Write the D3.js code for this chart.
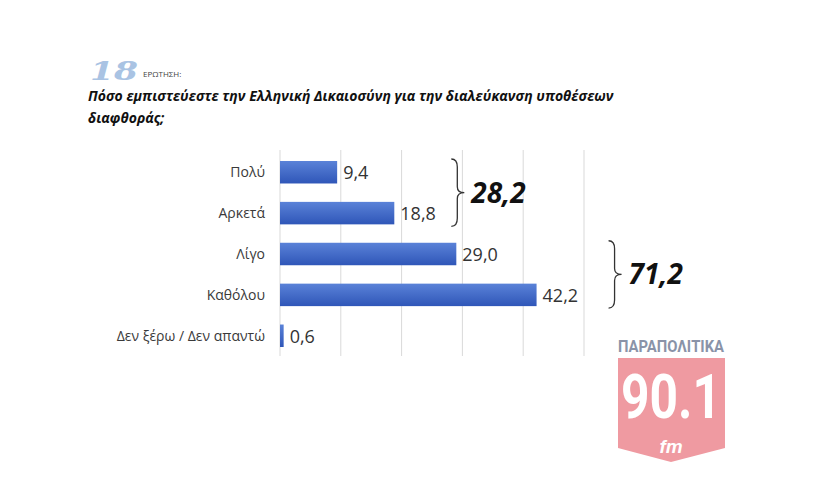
<!DOCTYPE html><html><head><meta charset="utf-8"><script src="https://cdn.jsdelivr.net/npm/d3@7"></script>
<style>body{margin:0;background:#fff}</style></head><body><svg width="830" height="488"></svg><script>
const categories=["Πολύ","Αρκετά","Λίγο","Καθόλου","Δεν ξέρω / Δεν απαντώ"];
const values=[9.4,18.8,29.0,42.2,0.6];
const labels=["9,4","18,8","29,0","42,2","0,6"];
const ticks=[0,10,20,30,40,50];
const groups=[{from:0,to:1,label:"28,2"},{from:2,to:3,label:"71,2"}];
const svg=d3.select("svg");const F="'Open Sans', sans-serif";
svg.append("text").attr("x",90).attr("y",80).attr("font-family","DejaVu Serif").attr("font-weight","bold").attr("font-style","italic").attr("font-size",26).attr("fill","#a9c3e3").attr("textLength",48).attr("lengthAdjust","spacingAndGlyphs").text("18");
svg.append("text").attr("x",143).attr("y",77).attr("font-family",F).attr("font-size",8).attr("fill","#444").text("ΕΡΩΤΗΣΗ:");
["Πόσο εμπιστεύεστε την Ελληνική Δικαιοσύνη για την διαλεύκανση υποθέσεων","διαφθοράς;"].forEach((t,i)=>svg.append("text").attr("x",88).attr("y",101+i*22).attr("font-family",F).attr("font-weight","bold").attr("font-style","italic").attr("font-size",14).attr("fill","#111").text(t));
const x=d3.scaleLinear().domain([0,50]).range([280,584]);
const y=d3.scaleBand().domain(categories).range([152,356]).paddingInner(0.45).paddingOuter(0.22);
svg.append("g").selectAll("line").data(ticks).join("line").attr("x1",d=>x(d)).attr("x2",d=>x(d)).attr("y1",150).attr("y2",356).attr("stroke","#d9d9d9");
const grad=svg.append("defs").append("linearGradient").attr("id","g").attr("x1",0).attr("x2",0).attr("y1",0).attr("y2",1);
grad.append("stop").attr("offset","0").attr("stop-color","#5a82d8");grad.append("stop").attr("offset","1").attr("stop-color","#2f56b8");
svg.append("g").selectAll("rect").data(values).join("rect").attr("x",x(0)).attr("y",(d,i)=>y(categories[i])).attr("width",d=>x(d)-x(0)).attr("height",y.bandwidth()).attr("fill","url(#g)");
svg.append("g").selectAll("text").data(values).join("text").attr("x",d=>x(d)+6).attr("y",(d,i)=>y(categories[i])+y.bandwidth()/2+7).attr("font-family",F).attr("font-size",18).attr("fill","#333").text((d,i)=>labels[i]);
svg.append("g").selectAll("text").data(categories).join("text").attr("x",265).attr("y",d=>y(d)+y.bandwidth()/2+5).attr("text-anchor","end").attr("font-family",F).attr("font-size",14).attr("fill","#3a3a3a").text(d=>d);
groups.forEach(g=>{const y0=y(categories[g.from])-2,y1=y(categories[g.to])+y.bandwidth()+2,xm=d3.max(values.slice(g.from,g.to+1).map((v,i)=>x(v)))+ (g.from==0?63:78);const ym=(y0+y1)/2;
svg.append("path").attr("d",`M${xm-6},${y0} Q${xm},${y0} ${xm},${y0+8} L${xm},${ym-6} Q${xm},${ym} ${xm+7},${ym} Q${xm},${ym} ${xm},${ym+6} L${xm},${y1-8} Q${xm},${y1} ${xm-6},${y1}`).attr("fill","none").attr("stroke","#333").attr("stroke-width",1.3);
svg.append("text").attr("x",xm+14).attr("y",ym+10).attr("font-family",F).attr("font-weight","bold").attr("font-style","italic").attr("font-size",28).attr("fill","#111").text(g.label);});
// logo
svg.append("text").attr("x",671).attr("y",352).attr("text-anchor","middle").attr("font-family","Liberation Sans Narrow, Roboto").attr("font-weight","bold").attr("font-size",16).attr("fill","#8a93a8").attr("textLength",106).attr("lengthAdjust","spacingAndGlyphs").text("ΠΑΡΑΠΟΛΙΤΙΚΑ");
svg.append("path").attr("d","M618,358 L725,358 L725,448 L671,462 L618,448 Z").attr("fill","#ef9aa1");
svg.append("text").attr("x",671).attr("y",418).attr("text-anchor","middle").attr("font-family","Liberation Sans Narrow, Roboto").attr("font-weight","bold").attr("font-size",62).attr("fill","#fff").attr("textLength",100).attr("lengthAdjust","spacingAndGlyphs").text("90.1");
svg.append("text").attr("x",671).attr("y",453).attr("text-anchor","middle").attr("font-family","Liberation Sans").attr("font-weight","bold").attr("font-style","italic").attr("font-size",19).attr("fill","#fff").text("fm");
</script></body></html>
